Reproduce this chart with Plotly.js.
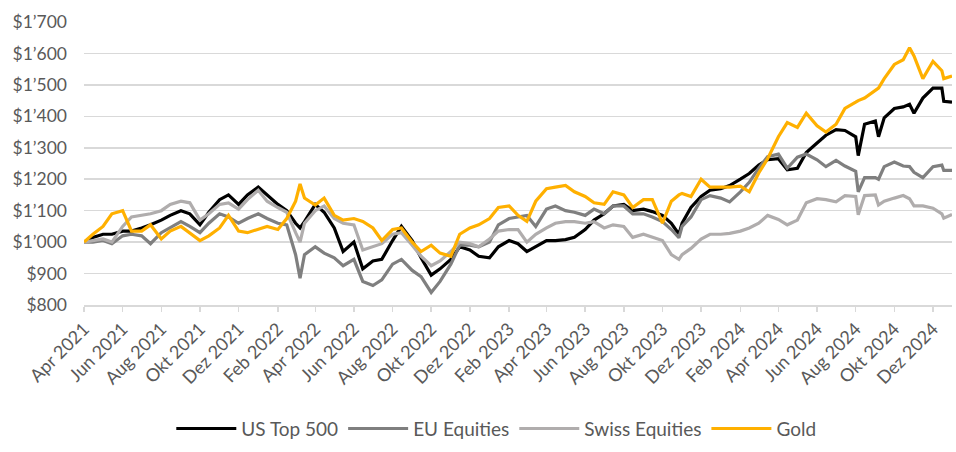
<!DOCTYPE html>
<html>
<head>
<meta charset="utf-8">
<script src="https://cdn.plot.ly/plotly-3.0.1.min.js"></script>
<style>html,body{margin:0;padding:0;background:#fff;}#chart{width:956px;height:452px;}</style>
</head>
<body>
<div id="chart"></div>
<script>
const dates = [
"2021-04-01","2021-04-15","2021-05-01","2021-05-15","2021-06-01","2021-06-15","2021-07-01","2021-07-15",
"2021-08-01","2021-08-15","2021-09-01","2021-09-15","2021-10-01","2021-10-15","2021-11-01","2021-11-15",
"2021-12-01","2021-12-15","2022-01-01","2022-01-15","2022-02-01","2022-02-15","2022-03-01","2022-03-08",
"2022-03-15","2022-04-01","2022-04-15","2022-05-01","2022-05-15","2022-06-01","2022-06-15","2022-07-01",
"2022-07-15","2022-08-01","2022-08-15","2022-09-01","2022-09-15","2022-10-01","2022-10-15","2022-11-01",
"2022-11-15","2022-12-01","2022-12-15","2023-01-01","2023-01-15","2023-02-01","2023-02-15","2023-03-01",
"2023-03-15","2023-04-01","2023-04-15","2023-05-01","2023-05-15","2023-06-01","2023-06-15","2023-07-01",
"2023-07-15","2023-08-01","2023-08-15","2023-09-01","2023-09-15","2023-10-01","2023-10-15","2023-10-27",
"2023-11-01","2023-11-15","2023-12-01","2023-12-15","2024-01-01","2024-01-15","2024-02-01","2024-02-15",
"2024-03-01","2024-03-15","2024-04-01","2024-04-15","2024-05-01","2024-05-15","2024-06-01","2024-06-15",
"2024-07-01","2024-07-15","2024-08-01","2024-08-05","2024-08-15","2024-09-01","2024-09-06","2024-09-15",
"2024-10-01","2024-10-15","2024-10-25","2024-11-01","2024-11-15","2024-12-01","2024-12-15","2024-12-18",
"2024-12-31"];

const usTop500 = [1000,1015,1025,1025,1035,1035,1045,1055,1070,1085,1100,1090,1055,1095,1135,1150,
1120,1150,1175,1150,1120,1100,1060,1045,1065,1120,1095,1045,970,1000,915,940,
945,1005,1050,1005,950,895,915,945,985,975,955,950,985,1005,995,970,
985,1005,1005,1008,1015,1040,1070,1090,1115,1120,1100,1105,1097,1085,1060,1025,
1060,1110,1145,1165,1170,1180,1200,1218,1245,1262,1265,1230,1235,1285,1315,1340,
1358,1355,1335,1275,1375,1385,1335,1395,1425,1430,1438,1410,1458,1490,1490,1448,1445];

const euEquities = [1000,1000,1005,995,1020,1025,1020,995,1030,1045,1065,1050,1030,1060,1090,1080,
1060,1075,1090,1075,1060,1055,960,885,960,985,965,950,925,945,875,862,
880,930,945,910,890,840,875,930,990,990,985,1000,1055,1075,1080,1085,
1050,1105,1115,1100,1095,1085,1105,1090,1115,1115,1090,1090,1080,1065,1040,1014,
1050,1080,1135,1148,1140,1128,1160,1190,1235,1272,1280,1235,1270,1280,1262,1240,
1260,1242,1225,1160,1205,1205,1200,1240,1255,1242,1240,1222,1205,1240,1245,1228,1228];

const swissEquities = [1000,1005,1010,1000,1050,1080,1085,1090,1100,1120,1130,1125,1070,1090,1120,1125,
1105,1135,1165,1130,1110,1095,1030,1000,1060,1100,1115,1075,1060,1055,975,985,
995,1025,1030,990,955,925,940,970,1000,995,985,1010,1035,1040,1040,1000,
1025,1045,1060,1065,1065,1060,1065,1045,1055,1050,1015,1025,1015,1005,960,945,
960,980,1010,1025,1025,1028,1035,1045,1060,1085,1072,1055,1070,1125,1138,1135,
1128,1148,1145,1087,1148,1150,1118,1130,1140,1148,1138,1115,1115,1108,1090,1076,1088];

const gold = [1000,1025,1050,1090,1100,1035,1035,1055,1010,1035,1050,1030,1005,1020,1045,1085,
1035,1030,1040,1050,1040,1075,1130,1185,1140,1118,1140,1085,1070,1075,1066,1045,
1005,1040,1045,1000,970,990,965,955,1025,1045,1055,1075,1110,1115,1085,1066,
1130,1170,1175,1180,1160,1145,1125,1120,1160,1150,1110,1135,1135,1060,1130,1150,
1155,1145,1200,1175,1175,1175,1178,1160,1220,1265,1335,1380,1365,1410,1370,1350,
1375,1425,1445,1450,1458,1485,1490,1520,1565,1580,1618,1592,1520,1575,1545,1520,1528];

const seriesNames = ["US Top 500","EU Equities","Swiss Equities","Gold"];
const seriesColors = ["#000000","#7f7f7f","#b0adad","#ffb000"];
const seriesValues = [usTop500, euEquities, swissEquities, gold];

const tickDates = ["2021-04-01","2021-06-01","2021-08-01","2021-10-01","2021-12-01","2022-02-01",
"2022-04-01","2022-06-01","2022-08-01","2022-10-01","2022-12-01","2023-02-01","2023-04-01",
"2023-06-01","2023-08-01","2023-10-01","2023-12-01","2024-02-01","2024-04-01","2024-06-01",
"2024-08-01","2024-10-01","2024-12-01"];
const tickLabels = ["Apr 2021","Jun 2021","Aug 2021","Okt 2021","Dez 2021","Feb 2022",
"Apr 2022","Jun 2022","Aug 2022","Okt 2022","Dez 2022","Feb 2023","Apr 2023",
"Jun 2023","Aug 2023","Okt 2023","Dez 2023","Feb 2024","Apr 2024","Jun 2024",
"Aug 2024","Okt 2024","Dez 2024"];
const yTicks = [800,900,1000,1100,1200,1300,1400,1500,1600,1700];
const yLabels = ["$800","$900","$1’000","$1’100","$1’200","$1’300","$1’400","$1’500","$1’600","$1’700"];

const traces = seriesNames.map((n,i)=>({
  x: dates, y: seriesValues[i], name: n, type: "scatter", mode: "lines",
  line: {color: seriesColors[i], width: 3.2}
}));

const layout = {
  width: 956, height: 452,
  margin: {l: 84, r: 4, t: 22, b: 139},
  paper_bgcolor: "#ffffff", plot_bgcolor: "#ffffff",
  font: {family: "Lato, 'Open Sans', sans-serif", color: "#595959"},
  xaxis: {
    type: "date", range: ["2021-04-01","2024-12-31"],
    tickvals: tickDates, ticktext: tickLabels, tickangle: -45,
    tickfont: {size: 18, color: "#595959"},
    showgrid: false, showline: true, linecolor: "#d9d9d9", linewidth: 1.5,
    ticks: "outside", ticklen: 5, tickcolor: "#d9d9d9", tickwidth: 1.5,
    zeroline: false, automargin: false
  },
  yaxis: {
    range: [800, 1700], tickvals: yTicks, ticktext: yLabels,
    tickfont: {size: 17.5, color: "#595959"},
    showgrid: true, gridcolor: "#d9d9d9", gridwidth: 1.5,
    zeroline: false, showline: false, ticks: "", ticklabelstandoff: 16, automargin: false
  },
  showlegend: true,
  legend: {
    orientation: "h", x: 0.475, xanchor: "center", y: -0.437, yanchor: "middle",
    font: {size: 19, color: "#595959"}, itemwidth: 60, traceorder: "normal"
  }
};

Plotly.newPlot("chart", traces, layout, {displayModeBar: false, staticPlot: true});
</script>
</body>
</html>
